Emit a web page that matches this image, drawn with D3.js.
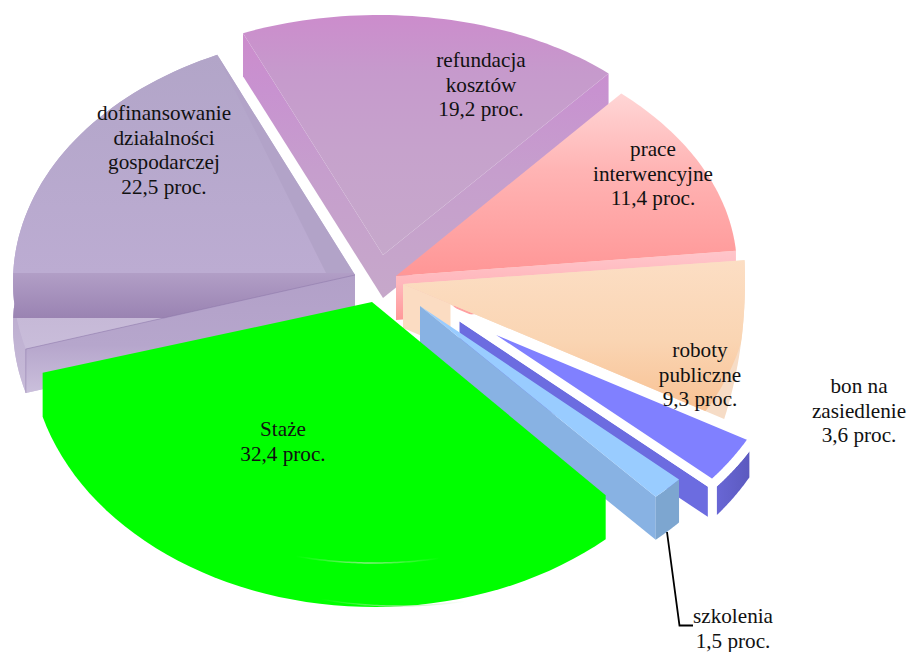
<!DOCTYPE html>
<html>
<head>
<meta charset="utf-8">
<style>
  html, body { margin: 0; background: #fff; }
  text { font-family: "Liberation Serif", "Times New Roman", serif; font-size: 21.2px; fill: #111; text-anchor: middle; }
</style>
<script src="https://cdn.jsdelivr.net/npm/d3@7"></script>
</head>
<body>
<div id="chart"></div>
<script>
// dane
const categories = ["refundacja kosztów", "prace interwencyjne", "roboty publiczne", "bon na zasiedlenie", "szkolenia", "Staże", "dofinansowanie działalności gospodarczej"];
const shares = [19.2, 11.4, 9.3, 3.6, 1.5, 32.4, 22.5];
const labelLines = [
    ["refundacja", "kosztów", "19,2 proc."],
    ["prace", "interwencyjne", "11,4 proc."],
    ["roboty", "publiczne", "9,3 proc."],
    ["bon na", "zasiedlenie", "3,6 proc."],
    ["szkolenia", "1,5 proc."],
    ["Staże", "32,4 proc."],
    ["dofinansowanie", "działalności", "gospodarczej", "22,5 proc."]
];

// rozsuniete wycinki: wierzcholek (ax, ay), elipsa obrzeza, wysokosc bryly
const geometry = [
    { ax: 383, ay: 255, ex: 378.6, ey: 217, rx: 327, ry: 202, depth: 43 },
    { ax: 396, ay: 276, ex: 347, ey: 269, rx: 390, ry: 247, depth: 44 },
    { ax: 403, ay: 284, ex: 582, ey: 281, rx: 163, ry: 282, depth: 44 },
    { ax: 455, ay: 313, ex: 480, ey: 313.5, rx: 314, ry: 254, depth: 41 },
    { ax: 420, ay: 306, ex: 420, ey: 306, rx: 350, ry: 258, depth: 43 },
    { ax: 372, ay: 302, ex: 374, ey: 303, rx: 344, ry: 260, depth: 44 },
    { ax: 355, ay: 275, ex: 362, ey: 282, rx: 349, ry: 249.6, depth: 44 }
];
const labelPos = [[481, 67], [653, 156], [700, 357], [859, 393], [733, 623], [283, 436], [164, 120]];
const labelStep = 24.6;

const width = 909, height = 652;
const rad = d => d * Math.PI / 180;

const svg = d3.select("#chart").append("svg")
    .attr("width", width)
    .attr("height", height)
    .style("display", "block");
const defs = svg.append("defs");

function vGrad(id, stops) {
    const y0 = stops[0][0], y1 = stops[stops.length - 1][0];
    const g = defs.append("linearGradient").attr("id", id)
        .attr("gradientUnits", "userSpaceOnUse")
        .attr("x1", 0).attr("x2", 0).attr("y1", y0).attr("y2", y1);
    stops.forEach(s => g.append("stop").attr("offset", (s[0] - y0) / (y1 - y0)).attr("stop-color", s[1]));
    return `url(#${id})`;
}

function hGlow(id, x0, x1, color) {
    const g = defs.append("linearGradient").attr("id", id)
        .attr("gradientUnits", "userSpaceOnUse")
        .attr("x1", x0).attr("x2", x1).attr("y1", 0).attr("y2", 0);
    [[0, 0], [0.5, 0.8], [1, 0]].forEach(s => g.append("stop")
        .attr("offset", s[0]).attr("stop-color", color).attr("stop-opacity", s[1]));
    return `url(#${id})`;
}

const pie = d3.pie().sort(null).value(d => d)
    .startAngle(rad(-24.5)).endAngle(rad(335.5));
const arcs = pie(shares);
const line = d3.line();

function rim(g, a0, a1) {
    const angle = d3.scaleLinear().domain([0, 1]).range([a0, a1]);
    return d3.range(0, 1.001, 0.02).map(t => [
        g.ex + g.rx * Math.sin(angle(t)),
        g.ey - g.ry * Math.cos(angle(t))
    ]);
}
const shift = (pts, dy) => pts.map(p => [p[0], p[1] + dy]);
const closed = pts => line(pts) + "Z";

function slice(i) {
    const g = geometry[i], a = arcs[i];
    const apex = [g.ax, g.ay];
    const r = rim(g, a.startAngle, a.endAngle);
    return {
        g, apex, r,
        face: [apex, ...r],
        rimWall: [...r, ...shift(r, g.depth).reverse()],
        startWall: [apex, r[0], [r[0][0], r[0][1] + g.depth], [apex[0], apex[1] + g.depth]],
        endWall: [apex, r[r.length - 1], [r[r.length - 1][0], r[r.length - 1][1] + g.depth], [apex[0], apex[1] + g.depth]]
    };
}

function draw(layer, pts, fill, extra) {
    const p = layer.append("path").attr("d", closed(pts)).attr("fill", fill);
    if (extra) Object.entries(extra).forEach(([k, v]) => p.attr(k, v));
    return p;
}

const plot = svg.append("g");

// dofinansowanie
(function () {
    const s = slice(6), g = s.g;
    const layer = plot.append("g").attr("class", "slice-dofinansowanie");
    const bottom = shift(s.face, g.depth);
    draw(layer, bottom, vGrad("dofBottom", [[100, "#b8a8cc"], [330, "#b9a8cf"], [394, "#cfc6de"]]));
    draw(layer, s.rimWall, vGrad("dofRim", [[280, "#b8a8cc"], [394, "#c8bcd9"]]));
    draw(layer, s.face, vGrad("dofFace", [[55, "#b2a5c8"], [273, "#bcacd2"], [318, "#c6b9d7"], [350, "#c9bdda"]]));

    // sciana wewnetrzna po prawej
    const inner = [s.r[s.r.length - 1], s.apex, [g.ax - 29, g.ay - 2]];
    draw(layer, inner, "#b2a3c8");

    // poziomy pas widoczny przez polprzezroczysta bryle
    const clip = defs.append("clipPath").attr("id", "dofClip");
    clip.append("path").attr("d", closed(s.face));
    clip.append("path").attr("d", closed(bottom));
    clip.append("path").attr("d", closed(s.rimWall));
    clip.append("path").attr("d", closed(s.endWall));
    layer.append("rect")
        .attr("x", 0).attr("width", g.ax)
        .attr("y", g.ay - 2).attr("height", g.depth + 1)
        .attr("clip-path", "url(#dofClip)")
        .attr("fill", vGrad("dofBand", [[273, "#b19ec6"], [318, "#9a83b2"]]));

    // przednia sciana (koniec wycinka)
    const front = [s.apex, s.r[0], [s.r[0][0], s.r[0][1] + g.depth], [g.ax, g.ay + g.depth]];
    draw(layer, front, vGrad("dofFront", [[275, "#b2a0c8"], [345, "#b6a6cc"], [394, "#cbc0dc"]]));
    layer.append("path")
        .attr("d", line([s.apex, s.r[0], [s.r[0][0], s.r[0][1] + g.depth]]))
        .attr("fill", "none").attr("stroke", "#8a73a6").attr("stroke-opacity", 0.6).attr("stroke-width", 0.8);
})();

// refundacja
(function () {
    const s = slice(0);
    const layer = plot.append("g").attr("class", "slice-refundacja");
    const wall = vGrad("refWall", [[33, "#cc8ccc"], [90, "#c892d0"], [170, "#c69ecd"], [298, "#c6a8ca"]]);
    draw(layer, s.startWall, wall);
    draw(layer, s.endWall, wall);
    draw(layer, s.face, vGrad("refFace", [[14, "#cc8ccc"], [73, "#c69acc"], [150, "#c6a2cc"], [255, "#c6a8cb"]]));
})();

// prace interwencyjne
(function () {
    const s = slice(1);
    const layer = plot.append("g").attr("class", "slice-prace");
    draw(layer, s.endWall, vGrad("praWall", [[250, "#ffc6cb"], [285, "#ffb6bb"], [320, "#ff9999"]]));
    draw(layer, s.face, vGrad("praFace", [[93, "#ffd6d6"], [170, "#ffb4b4"], [276, "#ff9696"]]));
})();

// roboty publiczne
(function () {
    const s = slice(2), g = s.g, a = arcs[2];
    const layer = plot.append("g").attr("class", "slice-roboty");
    const inner = { ex: 410, ey: g.ay, rx: 340, ry: 257 };
    const wallEnd = d3.interpolate(s.apex, s.r[s.r.length - 1])(0.158);
    const wall = [s.apex, wallEnd, [wallEnd[0], wallEnd[1] + g.depth], [g.ax, g.ay + g.depth]];
    draw(layer, wall, "#fbdcc2");
    draw(layer, s.face, "#f6dcc6");
    defs.append("clipPath").attr("id", "robClip").append("path").attr("d", closed(s.face));
    draw(layer, [s.apex, ...rim(inner, a.startAngle - 0.1, a.endAngle + 0.1)],
        vGrad("robFace", [[259, "#fcdec4"], [340, "#fad5b3"], [418, "#f8bf90"]]),
        { "clip-path": "url(#robClip)" });
})();

// bon na zasiedlenie
(function () {
    const s = slice(3);
    const layer = plot.append("g").attr("class", "slice-bon")
        .attr("stroke", "#fff").attr("stroke-width", 9).attr("stroke-linejoin", "miter");
    draw(layer, s.endWall, "#6c6ce0");
    const outer = defs.append("linearGradient").attr("id", "bonOuter")
        .attr("x1", 0).attr("x2", 1).attr("y1", 0).attr("y2", 0);
    outer.append("stop").attr("offset", 0).attr("stop-color", "#6a68d8");
    outer.append("stop").attr("offset", 1).attr("stop-color", "#5a58bc");
    draw(layer, s.rimWall, "url(#bonOuter)");
    draw(layer, s.face, "#8080ff");
})();

// szkolenia
(function () {
    const s = slice(4);
    const layer = plot.append("g").attr("class", "slice-szkolenia");
    draw(layer, s.endWall, "#88b2e3");
    draw(layer, s.rimWall, "#7da6d0");
    draw(layer, s.face, "#99ccff");
})();

// staze
(function () {
    const s = slice(5), g = s.g, a = arcs[5];
    const layer = plot.append("g").attr("class", "slice-staze");
    const last = s.r[s.r.length - 1];
    draw(layer, [s.apex, ...s.r.slice(0, 1), ...shift(s.r, g.depth), last], "#00ff00");
    const glowArc = rim(g, a.startAngle + rad(31), a.startAngle + rad(56));
    plot.append("path").attr("d", line(glowArc)).attr("fill", "none")
        .attr("stroke", hGlow("glowTop", 296, 440, "#a8e8a0")).attr("stroke-width", 1.5);
    plot.append("path").attr("d", line(shift(glowArc, g.depth - 1).map(p => [p[0] + 25, p[1]]))).attr("fill", "none")
        .attr("stroke", hGlow("glowBottom", 321, 465, "#a8e8a0")).attr("stroke-width", 1.3);
})();

// linia odniesienia do etykiety szkolen
plot.append("path")
    .attr("d", line([[667, 532], [679.5, 625.5], [693, 625.5]]))
    .attr("fill", "none").attr("stroke", "#000").attr("stroke-width", 1.8);

// etykiety
svg.append("g").selectAll("text")
    .data(categories)
    .join("text")
    .attr("transform", (d, i) => `translate(${labelPos[i][0]},${labelPos[i][1]})`)
    .selectAll("tspan")
    .data((d, i) => labelLines[i])
    .join("tspan")
    .attr("x", 0)
    .attr("y", (d, i) => i * labelStep)
    .text(d => d);
</script>
</body>
</html>
